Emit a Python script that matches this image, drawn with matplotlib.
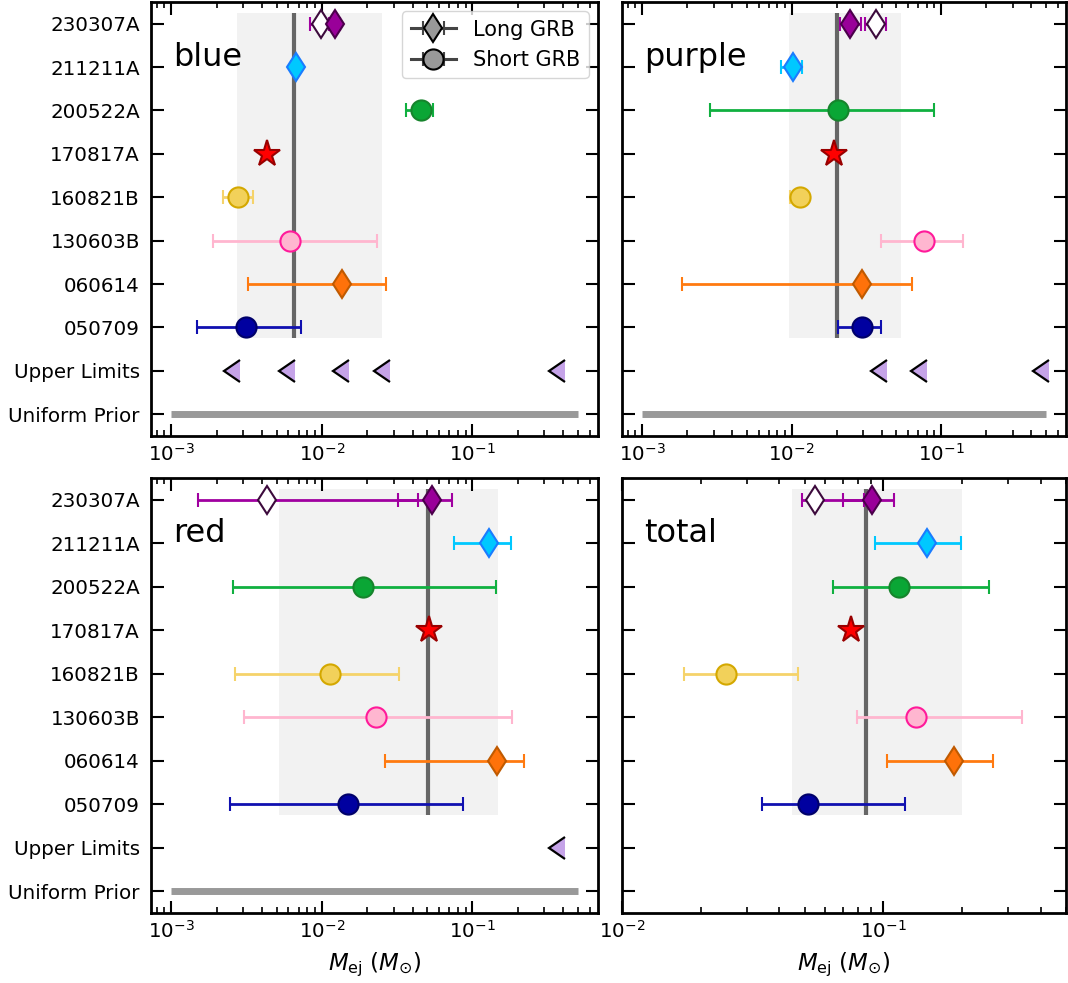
import numpy as np
import matplotlib
matplotlib.use("Agg")
import matplotlib.pyplot as plt

# rows, bottom to top
row_labels = ['Uniform Prior', 'Upper Limits', '050709', '060614', '130603B',
              '160821B', '170817A', '200522A', '211211A', '230307A']

# one entry per plotted point (230307A has two: open + filled)
point_rows = [2, 3, 4, 5, 6, 7, 8, 9, 9]
point_markers = ['o', 'd', 'o', 'o', '*', 'o', 'd', 'd', 'd']
point_face = ['#0000a0', '#ff720a', '#ffb6d0', '#f2d15a', '#ff0000',
              '#0aa635', '#00c8ff', 'white', '#990099']
point_edge = ['#00006a', '#c05a00', '#ff1a9a', '#d4a800', '#990000',
              '#16842c', '#1a7cff', '#3c0a3c', '#4b004b']
point_ecol = ['#1010b0', '#ff7a10', '#ffb6cf', '#f5d36a', '#ff0000',
              '#10b040', '#00c8ff', '#a000a0', '#a000a0']

# value, lower bound, upper bound  (M_ej in Msun)
blue_val = [0.00315, 0.01365, 0.00616, 0.00279, 0.00433, 0.0457, 0.0067, 0.0099, 0.01214]
blue_lo = [0.00147, 0.00322, 0.00188, 0.00219, 0.00433, 0.0361, 0.0062, 0.0083, 0.0111]
blue_hi = [0.0073, 0.0267, 0.0234, 0.00348, 0.00433, 0.055, 0.0072, 0.0112, 0.0132]
blue_ul = [0.00288, 0.00662, 0.01524, 0.0284, 0.415]
blue_band = [0.00273, 0.0251]
blue_med = 0.00649

purple_val = [0.0293, 0.0293, 0.0764, 0.0113, 0.0193, 0.0203, 0.01016, 0.0366, 0.0244]
purple_lo = [0.0204, 0.00186, 0.0394, 0.0097, 0.0193, 0.00284, 0.00853, 0.0308, 0.021]
purple_hi = [0.0398, 0.0635, 0.1406, 0.0125, 0.0193, 0.0889, 0.0118, 0.0424, 0.029]
purple_ul = [0.0431, 0.0803, 0.526]
purple_band = [0.0096, 0.0535]
purple_med = 0.0200

red_val = [0.01486, 0.1466, 0.0228, 0.01125, 0.0517, 0.0187, 0.1297, 0.00434, 0.0535]
red_lo = [0.00247, 0.0262, 0.00303, 0.00264, 0.0517, 0.00256, 0.0757, 0.00151, 0.0318]
red_hi = [0.0871, 0.219, 0.182, 0.0326, 0.0517, 0.1436, 0.181, 0.0434, 0.0730]
red_ul = [0.415]
red_band = [0.00521, 0.1486]
red_med = 0.0506

total_val = [0.0516, 0.186, 0.1334, 0.0251, 0.0754, 0.1143, 0.1466, 0.0547, 0.0908]
total_lo = [0.0342, 0.1036, 0.0794, 0.0172, 0.0754, 0.0642, 0.0927, 0.0488, 0.0701]
total_hi = [0.1208, 0.262, 0.340, 0.0470, 0.0754, 0.253, 0.198, 0.0842, 0.1094]
total_ul = []
total_band = [0.0448, 0.200]
total_med = 0.0860

prior_range = [1e-3, 0.5]

plt.rcParams['font.size'] = 14
plt.rcParams['mathtext.fontset'] = 'dejavusans'

fig = plt.figure(figsize=(10.68, 9.83), dpi=100)
W, H = 1068, 983


def add_ax(x0, x1, y0, y1):
    return fig.add_axes([x0 / W, 1 - y1 / H, (x1 - x0) / W, (y1 - y0) / H])


axes = [add_ax(151, 598, 2, 436), add_ax(622, 1066, 2, 436),
        add_ax(151, 598, 478, 913), add_ax(622, 1066, 478, 913)]

panels = [
    ('blue', blue_val, blue_lo, blue_hi, blue_ul, blue_band, blue_med, True),
    ('purple', purple_val, purple_lo, purple_hi, purple_ul, purple_band, purple_med, True),
    ('red', red_val, red_lo, red_hi, red_ul, red_band, red_med, True),
    ('total', total_val, total_lo, total_hi, total_ul, total_band, total_med, False),
]

for i, (ax, (name, val, lo, hi, ul, band, med, prior)) in enumerate(zip(axes, panels)):
    ax.set_xscale('log')
    ax.fill_betweenx([1.75, 9.25], band[0], band[1], color='#f2f2f2', lw=0, zorder=0)
    ax.vlines(med, 1.75, 9.25, color='#666666', lw=3, zorder=1)

    for j in range(len(val)):
        v = val[j]
        err = [[v - lo[j]], [hi[j] - v]]
        ms = 20 if point_markers[j] == '*' else 14.5
        ax.errorbar([v], [point_rows[j]], xerr=err if hi[j] > lo[j] else None,
                    fmt=point_markers[j], color=point_ecol[j], mfc=point_face[j],
                    mec=point_edge[j], mew=1.5, ms=ms, elinewidth=2,
                    capsize=5, capthick=2, zorder=3 + j)

    if ul:
        # caret marker, base on the limit value
        ax.plot(ul, [1] * len(ul), ls='none', marker=8, ms=15.5,
                mfc='#c5a3e8', mec='black', mew=1.6, zorder=3)
    if prior:
        ax.plot(prior_range, [0, 0], color='#999999', lw=5, solid_capstyle='butt', zorder=2)
        pad = 0.135
        ax.set_xlim(10 ** (np.log10(prior_range[0]) - pad),
                    10 ** (np.log10(prior_range[1]) + pad))
    else:
        ax.set_xlim(1e-2, 0.5)

    ax.set_ylim(-0.5, 9.5)
    ax.set_yticks(range(len(row_labels)))
    if i % 2 == 0:
        ax.set_yticklabels(row_labels)
    else:
        ax.set_yticklabels([])

    ax.tick_params(which='both', direction='in', top=True, right=True)
    ax.tick_params(which='major', length=9, width=1.5, labelsize=14.3)
    ax.tick_params(which='minor', length=4.5, width=1.2)
    ax.tick_params(axis='y', pad=8)
    ax.tick_params(axis='x', pad=5)
    for s in ax.spines.values():
        s.set_linewidth(2)

    ax.text(0.05, 0.873, name, transform=ax.transAxes, fontsize=23,
            ha='left', va='center')

    if i >= 2:
        ax.set_xlabel(r'$M_{\rm ej}$ ($M_{\odot}$)', fontsize=16.5, labelpad=6)

# legend in first panel
ax = axes[0]
ax.errorbar([np.nan], [np.nan], xerr=[1], fmt='d-', lw=2.2, color='#444444',
            mfc='#999999', mec='black', mew=1.5, ms=14.5, elinewidth=2,
            capsize=5, capthick=2, label='Long GRB')
ax.errorbar([np.nan], [np.nan], xerr=[1], fmt='o-', lw=2.2, color='#444444',
            mfc='#999999', mec='black', mew=1.5, ms=14.5, elinewidth=2,
            capsize=5, capthick=2, label='Short GRB')
ax.legend(loc='upper right', fontsize=15, handlelength=2.2, handletextpad=0.8,
          borderpad=0.4, labelspacing=0.5, borderaxespad=0.45)

fig.savefig('out.png', dpi=100)
